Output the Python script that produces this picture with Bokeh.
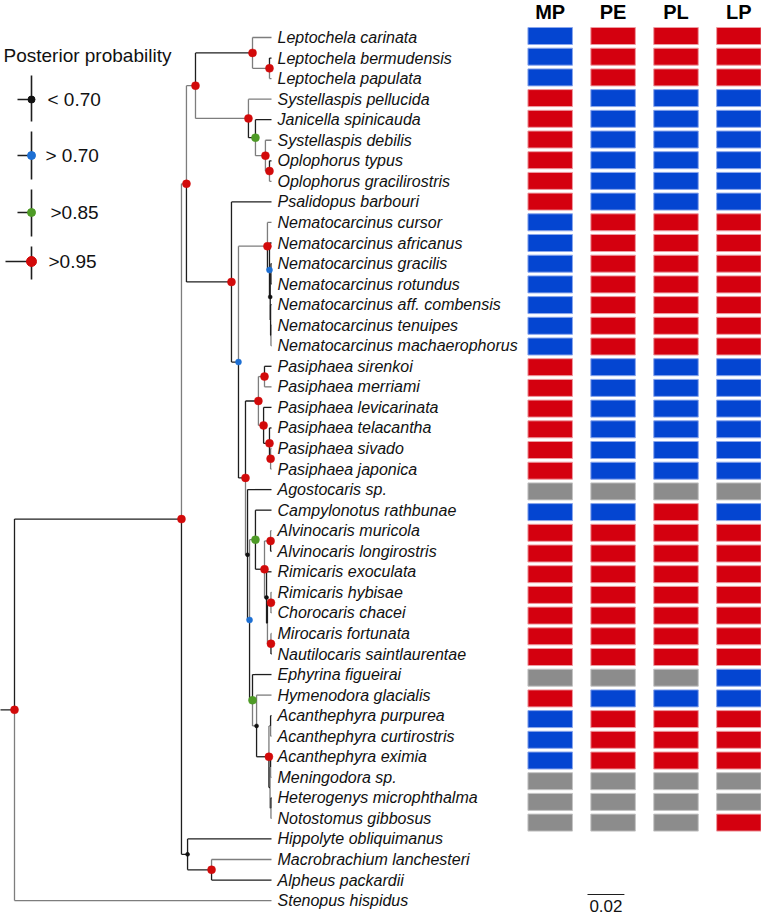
from bokeh.plotting import figure
from bokeh.models import Range1d
from bokeh.embed import file_html
from bokeh.resources import INLINE
from bokeh.core.properties import value

# ---------------- data ----------------
taxa = [
    "Leptochela carinata", "Leptochela bermudensis", "Leptochela papulata",
    "Systellaspis pellucida", "Janicella spinicauda", "Systellaspis debilis",
    "Oplophorus typus", "Oplophorus gracilirostris", "Psalidopus barbouri",
    "Nematocarcinus cursor", "Nematocarcinus africanus", "Nematocarcinus gracilis",
    "Nematocarcinus rotundus", "Nematocarcinus aff. combensis", "Nematocarcinus tenuipes",
    "Nematocarcinus machaerophorus", "Pasiphaea sirenkoi", "Pasiphaea merriami",
    "Pasiphaea levicarinata", "Pasiphaea telacantha", "Pasiphaea sivado", "Pasiphaea japonica",
    "Agostocaris sp.", "Campylonotus rathbunae", "Alvinocaris muricola", "Alvinocaris longirostris",
    "Rimicaris exoculata", "Rimicaris hybisae", "Chorocaris chacei", "Mirocaris fortunata",
    "Nautilocaris saintlaurentae", "Ephyrina figueirai", "Hymenodora glacialis",
    "Acanthephyra purpurea", "Acanthephyra curtirostris", "Acanthephyra eximia",
    "Meningodora sp.", "Heterogenys microphthalma", "Notostomus gibbosus",
    "Hippolyte obliquimanus", "Macrobrachium lanchesteri", "Alpheus packardii", "Stenopus hispidus",
]
# internal node that each tip hangs from
tip_parent = [4, 5, 5, 6, 7, 8, 9, 9, 10, 12, 13, 15, 15, 16, 17, 17, 20, 20, 21, 22, 23, 23,
              24, 26, 28, 28, 29, 31, 31, 32, 32, 33, 34, 36, 36, 38, 38, 39, 39, 40, 41, 41, 0]
# internal nodes: parent, depth (substitutions/site from root), posterior class
node_parent = [-1, 0, 1, 2, 3, 4, 3, 6, 7, 8, 2, 10, 11, 12, 13, 14, 14, 16, 11, 18, 19, 19,
               21, 22, 18, 24, 25, 26, 27, 27, 29, 30, 30, 25, 33, 34, 35, 35, 37, 37, 1, 40]
node_depth = [0.0, 0.0905, 0.0932, 0.0981, 0.1290, 0.1382, 0.1268, 0.1306, 0.1360, 0.1382,
              0.1176, 0.1214, 0.1371, 0.1382, 0.1386, 0.1390, 0.1388, 0.1390, 0.1252, 0.1322,
              0.1355, 0.1350, 0.1382, 0.1388, 0.1263, 0.1274, 0.1306, 0.1355, 0.1388, 0.1366,
              0.1371, 0.1390, 0.1390, 0.1290, 0.1312, 0.1379, 0.1388, 0.1385, 0.1388, 0.1390,
              0.0938, 0.1068]
node_support = ["r", "r", "r", "r", "r", "r", "r", "g", "r", "r", "r", "b", "r", "b", "k", "", "", "",
                "r", "r", "r", "r", "r", "r", "k", "b", "g", "r", "r", "k", "", "r", "r", "g", "k",
                "r", "", "", "", "", "k", "r"]
tip_depth = 0.1393
scale_length = 0.02

columns = ["MP", "PE", "PL", "LP"]
heat_MP = list("BBB" "RRRRRR" "BBBBBBB" "RRRRRR" "G" "B" "RRRRRRR" "G" "R" "BBB" "GGG")
heat_PE = list("RRR" "BBBBBB" "RRRRRRR" "BBBBBB" "G" "B" "RRRRRRR" "G" "B" "RRR" "GGG")
heat_PL = list("RRR" "BBBBBB" "RRRRRRR" "BBBBBB" "G" "R" "RRRRRRR" "G" "B" "RRR" "GGG")
heat_LP = list("RRR" "BBBBBB" "RRRRRRR" "BBBBBB" "G" "B" "RRRRRRR" "B" "B" "RRR" "GG" "R")

legend_title = "Posterior probability"
legend_classes = ["k", "b", "g", "r"]
legend_labels = ["< 0.70", "> 0.70", ">0.85", ">0.95"]

# ---------------- styles / layout ----------------
GRAY, BLACK = "#7d7d7d", "#1e1e1e"
tip_shade = list("gkggkgkgkgkkkkggkgkkggkkgkkgggkkgkgkgkgkg" "kg")
node_shade = list("kkggkgg" "kggkkgkkkkkkkg" "gkkgkgkggkkgkgkgkggkkkgkkg")
dot_color = {"r": "#d20a0a", "g": "#4e9b26", "b": "#1d6fd3", "k": "#111111"}
dot_size = {"r": 8, "g": 8, "b": 6, "k": 4}
legend_dot_size = {"r": 10, "g": 8, "b": 8, "k": 7}
heat_fill = {"R": "#d4000f", "B": "#0445d1", "G": "#8c8c8c"}
heat_line = {"R": "#ee9aa0", "B": "#8aa6ec", "G": "#c4c4c4"}

W, H = 761, 917
PX_PER_UNIT = 1845.0
ROOT_PX = 14.0
TIP_TOP, TIP_STEP = 37.0, 20.55
HEAT_X0, HEAT_XSTEP = 549.7, 62.9
HEAT_Y0, HEAT_YSTEP = 35.5, 20.7

def tx(px):
    return (px - ROOT_PX) / PX_PER_UNIT

def ty(px):
    return (px - TIP_TOP) / TIP_STEP

p = figure(width=W, height=H, output_backend="svg", toolbar_location=None,
           x_range=Range1d(tx(0), tx(W)), y_range=Range1d(ty(H), ty(0)),
           x_axis_location=None, y_axis_location=None, min_border=0,
           min_border_left=0, min_border_right=0, min_border_top=0, min_border_bottom=0,
           outline_line_color=None, background_fill_color="white", border_fill_color="white")
p.grid.visible = False
p.extra_x_ranges = {"heat": Range1d(-HEAT_X0 / HEAT_XSTEP, (W - HEAT_X0) / HEAT_XSTEP)}
p.extra_y_ranges = {"heat": Range1d((H - HEAT_Y0) / HEAT_YSTEP, -HEAT_Y0 / HEAT_YSTEP)}

# ---------------- tree geometry ----------------
n_int = len(node_parent)
children = {k: [] for k in range(n_int)}
for t, par in enumerate(tip_parent):
    children[par].append(("t", t))
for k in range(1, n_int):
    children[node_parent[k]].append(("n", k))
node_y = [0.0] * n_int

def child_y(c):
    return float(c[1]) if c[0] == "t" else node_y[c[1]]

for k in reversed(range(n_int)):
    ys = [child_y(c) for c in children[k]]
    node_y[k] = (min(ys) + max(ys)) / 2.0

segs = {GRAY: ([], [], [], []), BLACK: ([], [], [], [])}

def add_branch(par, cx, cy, shade):
    col = GRAY if shade == "g" else BLACK
    x0s, y0s, x1s, y1s = segs[col]
    px_, py_ = node_depth[par], node_y[par]
    x0s += [px_, px_]
    y0s += [py_, cy]
    x1s += [px_, cx]
    y1s += [cy, cy]

for t, par in enumerate(tip_parent):
    add_branch(par, tip_depth, float(t), tip_shade[t])
for k in range(1, n_int):
    add_branch(node_parent[k], node_depth[k], node_y[k], node_shade[k])
# root stem
segs[BLACK][0].append(tx(-10)); segs[BLACK][1].append(node_y[0])
segs[BLACK][2].append(node_depth[0]); segs[BLACK][3].append(node_y[0])

for col, (a, b, c, d) in segs.items():
    p.segment(x0=a, y0=b, x1=c, y1=d, line_color=col, line_width=1.3)

# node dots (black first, then bigger on top)
for cls in ["k", "b", "g", "r"]:
    xs = [node_depth[k] for k in range(n_int) if node_support[k] == cls]
    ys = [node_y[k] for k in range(n_int) if node_support[k] == cls]
    p.scatter(xs, ys, marker="circle", size=dot_size[cls], fill_color=dot_color[cls],
              line_color=dot_color[cls], line_width=0.5)

# tip labels
p.text(x=[tip_depth] * len(taxa), y=list(range(len(taxa))), text=taxa, x_offset=6,
       text_baseline="middle", text_align="left", text_font=value("Liberation Sans"),
       text_font_style="italic", text_font_size="16px", text_color="#111111")

# ---------------- heatmap ----------------
hx, hy, hf, hl = [], [], [], []
for ci, col in enumerate([heat_MP, heat_PE, heat_PL, heat_LP]):
    for ri, s in enumerate(col):
        hx.append(ci); hy.append(ri); hf.append(heat_fill[s]); hl.append(heat_line[s])
p.rect(x=hx, y=hy, width=44.5 / HEAT_XSTEP, height=17.0 / HEAT_YSTEP, fill_color=hf,
       line_color=hl, line_width=1, x_range_name="heat", y_range_name="heat")
p.text(x=list(range(len(columns))), y=[(11.0 - HEAT_Y0) / HEAT_YSTEP] * len(columns), text=columns,
       x_range_name="heat", y_range_name="heat", text_align="center", text_baseline="middle",
       text_font=value("Liberation Sans"), text_font_style="bold", text_font_size="20px",
       text_color="#000000")

# ---------------- legend ----------------
p.text(x=[tx(3)], y=[ty(55)], text=[legend_title], text_baseline="middle",
       text_font=value("Liberation Sans"), text_font_size="19px", text_color="#111111")
leg_centre = [99, 155, 212, 261]
leg_vert = [(75, 121), (131, 179), (189, 236), (246, 279)]
leg_hstart = [17, 17, 17, 5]
leg_text_x = [47, 45, 50, 48]
for i, cls in enumerate(legend_classes):
    yc = ty(leg_centre[i])
    p.segment(x0=[tx(31), tx(leg_hstart[i])], y0=[ty(leg_vert[i][0]), yc],
              x1=[tx(31), tx(31)], y1=[ty(leg_vert[i][1]), yc], line_color=BLACK, line_width=1.6)
    p.scatter([tx(31)], [yc], marker="circle", size=legend_dot_size[cls],
              fill_color=dot_color[cls], line_color=dot_color[cls])
    p.text(x=[tx(leg_text_x[i])], y=[yc], text=[legend_labels[i]], text_baseline="middle",
           text_font=value("Liberation Sans"), text_font_size="19px", text_color="#111111")

# ---------------- scale bar ----------------
sb_x0 = tx(587)
p.segment(x0=[sb_x0], y0=[ty(894)], x1=[sb_x0 + scale_length], y1=[ty(894)],
          line_color=BLACK, line_width=1.2)
p.text(x=[sb_x0 + scale_length / 2], y=[ty(905.5)], text=["%.2f" % scale_length],
       text_align="center", text_baseline="middle", text_font=value("Liberation Sans"),
       text_font_size="17px", text_color="#111111")

open("out.html", "w").write(file_html(p, INLINE))
